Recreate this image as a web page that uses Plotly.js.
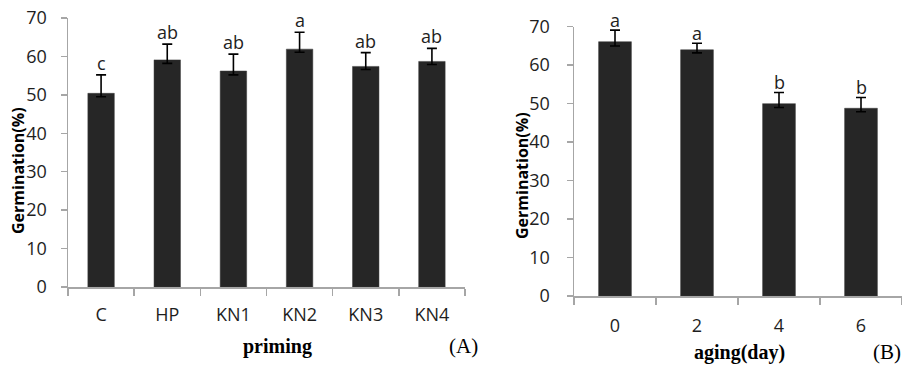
<!DOCTYPE html>
<html>
<head>
<meta charset="utf-8">
<script src="https://cdn.plot.ly/plotly-3.0.1.min.js"></script>
<style>html,body{margin:0;padding:0;background:#fff;}#chart{width:902px;height:365px;}</style>
</head>
<body>
<div id="chart"></div>
<script>
// Panel A: priming
const primingCats = ["C", "HP", "KN1", "KN2", "KN3", "KN4"];
const primingVals = [50.4, 59.1, 56.2, 61.9, 57.4, 58.7];
const primingErrPlus = [4.8, 4.1, 4.4, 4.4, 3.6, 3.4];
const primingErrMinus = [0.9, 0.9, 1.0, 0.8, 0.8, 0.8];
const primingLetters = ["c", "ab", "ab", "a", "ab", "ab"];

// Panel B: aging
const agingCats = ["0", "2", "4", "6"];
const agingVals = [66.1, 64.0, 50.0, 48.8];
const agingErrPlus = [3.0, 1.7, 2.9, 2.8];
const agingErrMinus = [1.1, 0.8, 1.0, 0.9];
const agingLetters = ["a", "a", "b", "b"];

const yTicks = [0, 10, 20, 30, 40, 50, 60, 70];

const barColor = "#262626";
const axisColor = "#a6a6a6";
const tickFont = {family: "Open Sans", size: 18, color: "#1e1e1e"};
const letterFont = {family: "Open Sans", size: 18, color: "#1e1e1e"};

const traces = [
  {
    type: "bar", x: primingCats, y: primingVals, xaxis: "x", yaxis: "y",
    marker: {color: barColor, line: {color: "#3a3a3a", width: 0.5}},
    width: 0.4,
    error_y: {type: "data", symmetric: false, array: primingErrPlus, arrayminus: primingErrMinus,
              color: "#000", thickness: 1.6, width: 5},
    hoverinfo: "none"
  },
  {
    type: "bar", x: agingCats, y: agingVals, xaxis: "x2", yaxis: "y2",
    marker: {color: barColor, line: {color: "#3a3a3a", width: 0.5}},
    width: 0.4,
    error_y: {type: "data", symmetric: false, array: agingErrPlus, arrayminus: agingErrMinus,
              color: "#000", thickness: 1.6, width: 5},
    hoverinfo: "none"
  }
];

const annotations = [];
primingCats.forEach((c, i) => {
  annotations.push({x: i, y: primingVals[i] + primingErrPlus[i], xref: "x", yref: "y",
    text: primingLetters[i], showarrow: false, xanchor: "center", yanchor: "bottom", yshift: -2,
    font: letterFont});
});
agingCats.forEach((c, i) => {
  annotations.push({x: i, y: agingVals[i] + agingErrPlus[i], xref: "x2", yref: "y2",
    text: agingLetters[i], showarrow: false, xanchor: "center", yanchor: "bottom", yshift: -4,
    font: letterFont});
});
// axis titles & panel labels
const titleFont = {family: "Open Sans", size: 16, color: "#000"};
annotations.push({x: 18/902, y: 1 - 171/365, xref: "paper", yref: "paper", text: "<b>Germination(%)</b>",
  textangle: -90, showarrow: false, xanchor: "center", yanchor: "middle", font: titleFont});
annotations.push({x: 522/902, y: 1 - 176/365, xref: "paper", yref: "paper", text: "<b>Germination(%)</b>",
  textangle: -90, showarrow: false, xanchor: "center", yanchor: "middle", font: titleFont});
annotations.push({x: 277/902, y: 1 - 346/365, xref: "paper", yref: "paper", text: "<b>priming</b>",
  showarrow: false, xanchor: "center", yanchor: "middle", font: {family: "Liberation Serif", size: 20, color: "#000"}});
annotations.push({x: 463/902, y: 1 - 346/365, xref: "paper", yref: "paper", text: "(A)",
  showarrow: false, xanchor: "center", yanchor: "middle", font: {family: "Liberation Serif", size: 21, color: "#000"}});
annotations.push({x: 739/902, y: 1 - 352/365, xref: "paper", yref: "paper", text: "<b>aging(day)</b>",
  showarrow: false, xanchor: "center", yanchor: "middle", font: {family: "Liberation Serif", size: 20, color: "#000"}});
annotations.push({x: 887/902, y: 1 - 352/365, xref: "paper", yref: "paper", text: "(B)",
  showarrow: false, xanchor: "center", yanchor: "middle", font: {family: "Liberation Serif", size: 21, color: "#000"}});

const xAxisBase = {
  type: "category", showgrid: false, zeroline: false, showline: true, linecolor: axisColor, linewidth: 1.5,
  ticks: "outside", tickson: "boundaries", ticklen: 7, tickcolor: axisColor, tickwidth: 1.5,
  tickfont: tickFont, ticklabelstandoff: 11, fixedrange: true
};
const yAxisBase = {
  range: [0, 70], tickvals: yTicks, ticktext: yTicks.map(String), showgrid: false, zeroline: false,
  showline: true, linecolor: axisColor, linewidth: 1.5, ticks: "outside", ticklen: 6,
  tickcolor: axisColor, tickwidth: 1.5, tickfont: tickFont, ticklabelstandoff: 10, fixedrange: true
};

const layout = {
  width: 902, height: 365,
  margin: {l: 0, r: 0, t: 0, b: 0},
  paper_bgcolor: "#fff", plot_bgcolor: "#fff",
  showlegend: false,
  xaxis: Object.assign({}, xAxisBase, {domain: [68/902, 465/902], anchor: "y", range: [-0.5, 5.5]}),
  yaxis: Object.assign({}, yAxisBase, {domain: [1 - 287/365, 1 - 18/365], anchor: "x"}),
  xaxis2: Object.assign({}, xAxisBase, {domain: [574/902, 1.0], anchor: "y2", range: [-0.5, 3.5], ticklabelstandoff: 13}),
  yaxis2: Object.assign({}, yAxisBase, {domain: [1 - 296/365, 1 - 26.7/365], anchor: "x2", ticklabelstandoff: 13}),
  annotations: annotations
};

Plotly.newPlot("chart", traces, layout, {displayModeBar: false, staticPlot: true});
</script>
</body>
</html>
